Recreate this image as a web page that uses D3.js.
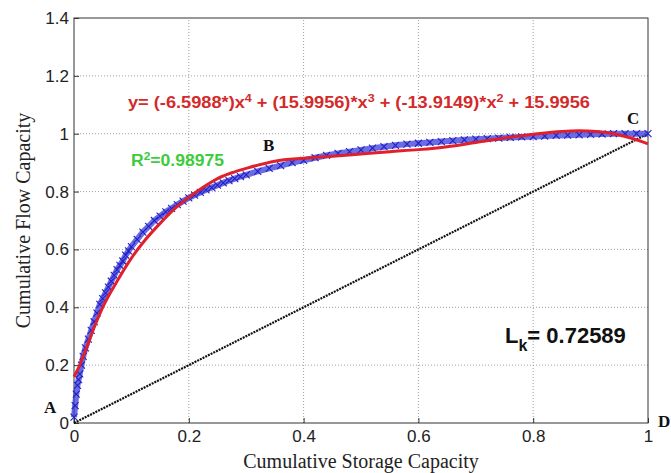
<!DOCTYPE html>
<html><head><meta charset="utf-8">
<script src="https://cdn.jsdelivr.net/npm/d3@7"></script>
<style>body{margin:0;background:#fff}</style></head>
<body><div id="chart"></div>
<script>
// measured points (storage, flow)
const measX = [0,0.002,0.004,0.006,0.008,0.01,0.013,0.016,0.02,0.025,0.03,0.035,0.04,0.045,0.05,0.055,0.06,0.065,0.07,0.075,0.08,0.085,0.09,0.095,0.1,0.11,0.12,0.13,0.14,0.15,0.16,0.17,0.18,0.19,0.2,0.21,0.22,0.23,0.24,0.25,0.26,0.27,0.28,0.29,0.3,0.32,0.34,0.36,0.38,0.4,0.42,0.44,0.46,0.48,0.5,0.52,0.54,0.56,0.58,0.6,0.62,0.64,0.66,0.68,0.7,0.72,0.74,0.76,0.78,0.8,0.82,0.84,0.86,0.88,0.9,0.92,0.94,0.96,0.98,1.0];
const measY = [0.02,0.06,0.1,0.13,0.15,0.17,0.2,0.23,0.26,0.29,0.32,0.35,0.38,0.41,0.43,0.45,0.47,0.49,0.51,0.53,0.545,0.56,0.58,0.595,0.61,0.635,0.66,0.68,0.70,0.715,0.73,0.742,0.755,0.767,0.778,0.788,0.797,0.806,0.814,0.822,0.83,0.838,0.845,0.852,0.858,0.87,0.88,0.89,0.9,0.908,0.917,0.925,0.932,0.938,0.944,0.95,0.955,0.96,0.964,0.967,0.97,0.973,0.976,0.979,0.981,0.983,0.985,0.987,0.989,0.99,0.992,0.994,0.995,0.996,0.998,0.999,1.0,1.0,1.0,1.0];
// polynomial fit curve as drawn
const fitX = [0,0.01,0.02,0.035,0.05,0.075,0.1,0.125,0.15,0.175,0.2,0.225,0.25,0.275,0.3,0.35,0.4,0.45,0.5,0.55,0.6,0.65,0.7,0.75,0.8,0.85,0.88,0.91,0.94,0.97,1.0];
const fitY = [0.16,0.2,0.25,0.33,0.40,0.49,0.57,0.635,0.69,0.74,0.78,0.815,0.845,0.865,0.88,0.905,0.915,0.922,0.93,0.938,0.945,0.955,0.97,0.985,0.998,1.008,1.01,1.008,1.0,0.985,0.965];
const diagX = [0,1], diagY = [0,1];
const xTicks = [0,0.2,0.4,0.6,0.8,1];
const yTicks = [0,0.2,0.4,0.6,0.8,1,1.2,1.4];

const W = 671, H = 473;
const m = {left:74, right:23, top:18, bottom:50};
const svg = d3.select("#chart").append("svg").attr("width",W).attr("height",H);
const x = d3.scaleLinear().domain([0,1]).range([m.left, W-m.right]);
const y = d3.scaleLinear().domain([0,1.4]).range([H-m.bottom, m.top]);

// grid
svg.append("g").selectAll("line").data(xTicks.slice(1,-1)).enter().append("line")
  .attr("x1",d=>x(d)).attr("x2",d=>x(d)).attr("y1",y(0)).attr("y2",y(1.4))
  .attr("stroke","#888").attr("stroke-width",0.8).attr("stroke-dasharray","1,2");
svg.append("g").selectAll("line").data(yTicks.slice(1,-1)).enter().append("line")
  .attr("y1",d=>y(d)).attr("y2",d=>y(d)).attr("x1",x(0)).attr("x2",x(1))
  .attr("stroke","#888").attr("stroke-width",0.8).attr("stroke-dasharray","1,2");

svg.append("rect").attr("x",x(0)).attr("y",y(1.4)).attr("width",x(1)-x(0)).attr("height",y(0)-y(1.4))
  .attr("fill","none").attr("stroke","#333").attr("stroke-width",1);

const fmt = d => String(d);
const xa = svg.append("g").attr("transform",`translate(0,${y(0)})`)
  .call(d3.axisBottom(x).tickValues(xTicks).tickSize(-5).tickPadding(7).tickFormat(fmt));
const ya = svg.append("g").attr("transform",`translate(${x(0)},0)`)
  .call(d3.axisLeft(y).tickValues(yTicks).tickSize(-5).tickPadding(5).tickFormat(fmt));
[xa,ya].forEach(a=>{a.select(".domain").remove();
  a.selectAll("text").attr("font-family","Liberation Sans, Arial").attr("font-size",17).attr("fill","#222");
  a.selectAll("line").attr("stroke","#333");});

const pts = (X,Y)=>X.map((v,i)=>[v,Y[i]]);
const line = d3.line().x(d=>x(d[0])).y(d=>y(d[1]));

// diagonal, dotted black
svg.append("path").datum(pts(diagX,diagY)).attr("d",line)
  .attr("fill","none").attr("stroke","#111").attr("stroke-width",2.2).attr("stroke-dasharray","2,1");

// blue measured band and crosses
const meas = pts(measX,measY);
svg.append("path").datum(meas).attr("d",line).attr("fill","none")
  .attr("stroke","#3a3ad8").attr("stroke-width",6).attr("opacity",0.75);
svg.append("g").selectAll("path").data(meas).enter().append("path")
  .attr("d",d=>{const cx=x(d[0]),cy=y(d[1]);return `M${cx-3.5},${cy-3.5}L${cx+3.5},${cy+3.5}M${cx-3.5},${cy+3.5}L${cx+3.5},${cy-3.5}`;})
  .attr("stroke","#2020c8").attr("stroke-width",1.1);

// red fit
svg.append("path").datum(pts(fitX,fitY)).attr("d",line.curve(d3.curveMonotoneX))
  .attr("fill","none").attr("stroke","#e0202a").attr("stroke-width",3);

// annotations
const eq = svg.append("text").attr("x",128).attr("y",108).attr("fill","#d42a2a")
  .attr("font-family","Liberation Sans, Arial").attr("font-weight","bold").attr("font-size",16)
  .attr("textLength",462).attr("lengthAdjust","spacingAndGlyphs");
eq.append("tspan").text("y= (-6.5988*)x");
eq.append("tspan").attr("dy",-6).attr("font-size",11).text("4");
eq.append("tspan").attr("dy",6).text(" + (15.9956)*x");
eq.append("tspan").attr("dy",-6).attr("font-size",11).text("3");
eq.append("tspan").attr("dy",6).text(" + (-13.9149)*x");
eq.append("tspan").attr("dy",-6).attr("font-size",11).text("2");
eq.append("tspan").attr("dy",6).text(" + 15.9956");

const r2 = svg.append("text").attr("x",131).attr("y",166).attr("fill","#3ccc3c")
  .attr("font-family","Liberation Sans, Arial").attr("font-weight","bold").attr("font-size",16)
  .attr("textLength",93).attr("lengthAdjust","spacingAndGlyphs");
r2.append("tspan").text("R");
r2.append("tspan").attr("dy",-6).attr("font-size",11).text("2");
r2.append("tspan").attr("dy",6).text("=0.98975");

const lk = svg.append("text").attr("x",505).attr("y",343).attr("fill","#111")
  .attr("font-family","Liberation Sans, Arial").attr("font-weight","bold").attr("font-size",22);
lk.append("tspan").text("L");
lk.append("tspan").attr("dy",8).attr("font-size",16).text("k");
lk.append("tspan").attr("dy",-8).text("= 0.72589");

const lab = (t,px,py)=>svg.append("text").attr("x",px).attr("y",py).text(t)
  .attr("font-family","Liberation Serif, Times New Roman").attr("font-weight","bold").attr("font-size",17).attr("fill","#111");
lab("A",44,413); lab("B",263,151); lab("C",627,124); lab("D",658,427);

svg.append("text").attr("x",(x(0)+x(1))/2).attr("y",468).attr("text-anchor","middle")
  .attr("font-family","Liberation Serif, Times New Roman").attr("font-size",20).attr("fill","#222")
  .text("Cumulative Storage Capacity");
svg.append("text").attr("transform",`translate(30,${(y(0)+y(1.4))/2}) rotate(-90)`).attr("text-anchor","middle")
  .attr("font-family","Liberation Serif, Times New Roman").attr("font-size",20).attr("fill","#222")
  .text("Cumulative Flow Capacity");
</script></body></html>
